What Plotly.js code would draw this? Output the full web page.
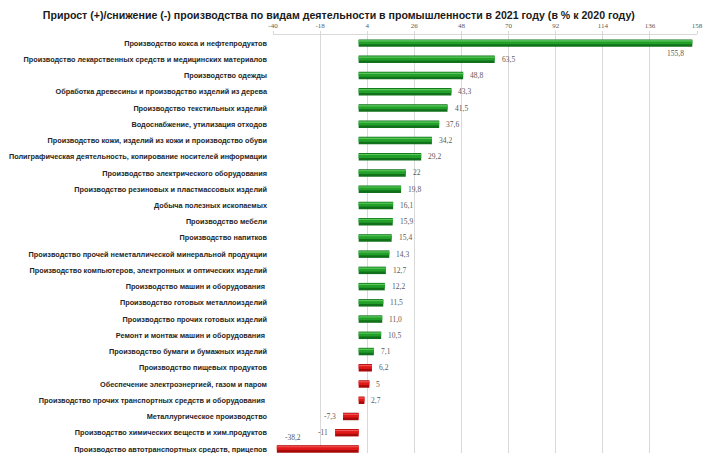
<!DOCTYPE html>
<html>
<head>
<meta charset="utf-8">
<script src="https://cdn.plot.ly/plotly-3.0.1.min.js"></script>
<style>html,body{margin:0;padding:0;overflow:hidden;background:#fff}</style>
</head>
<body>
<div id="chart" style="width:703px;height:453px"></div>
<script>
const categories = [
  "Производство кокса и нефтепродуктов",
  "Производство лекарственных средств и медицинских материалов",
  "Производство одежды",
  "Обработка древесины и производство изделий из дерева",
  "Производство текстильных изделий",
  "Водоснабжение, утилизация отходов",
  "Производство кожи, изделий из кожи и производство обуви",
  "Полиграфическая деятельность, копирование носителей информации",
  "Производство электрического оборудования",
  "Производство резиновых и пластмассовых изделий",
  "Добыча полезных ископаемых",
  "Производство мебели",
  "Производство напитков",
  "Производство прочей неметаллической минеральной продукции",
  "Производство компьютеров, электронных и оптических изделий",
  "Производство машин и оборудования ",
  "Производство готовых металлоизделий",
  "Производство прочих готовых изделий",
  "Ремонт и монтаж машин и оборудования ",
  "Производство бумаги и бумажных изделий",
  "Производство пищевых продуктов",
  "Обеспечение электроэнергией, газом и паром",
  "Производство прочих транспортных средств и оборудования ",
  "Металлургическое производство",
  "Производство химических веществ и хим.продуктов",
  "Производство автотранспортных средств, прицепов"
];
const values = [155.8, 63.5, 48.8, 43.3, 41.5, 37.6, 34.2, 29.2, 22, 19.8, 16.1, 15.9, 15.4, 14.3, 12.7, 12.2, 11.5, 11.0, 10.5, 7.1, 6.2, 5, 2.7, -7.3, -11, -38.2];
const valueLabels = ["155,8", "63,5", "48,8", "43,3", "41,5", "37,6", "34,2", "29,2", "22", "19,8", "16,1", "15,9", "15,4", "14,3", "12,7", "12,2", "11,5", "11,0", "10,5", "7,1", "6,2", "5", "2,7", "-7,3", "-11", "-38,2"];
const xTicks = [-40, -18, 4, 26, 48, 70, 92, 114, 136, 158];
const redFrom = 20;

const isRed = values.map((v, i) => i >= redFrom);
const baseColors = isRed.map(r => r ? '#a80a0a' : '#11711a');
const midColors = isRed.map(r => r ? '#e01818' : '#22a02a');
const topColors = isRed.map(r => r ? '#f05a5a' : '#5cc85c');

const traces = [
  {type: 'bar', orientation: 'h', x: values, y: categories, width: 0.46, offset: -0.23,
   marker: {color: baseColors, line: {width: 0}}, hoverinfo: 'skip'},
  {type: 'bar', orientation: 'h', x: values, y: categories, width: 0.26, offset: -0.19,
   marker: {color: midColors, line: {width: 0}}, hoverinfo: 'skip'},
  {type: 'bar', orientation: 'h', x: values, y: categories, width: 0.07, offset: -0.17,
   marker: {color: topColors, line: {width: 0}}, hoverinfo: 'skip'}
];

const annotations = values.map((v, i) => {
  const a = {x: v, y: categories[i], xref: 'x', yref: 'y', text: valueLabels[i], showarrow: false,
    font: {family: 'Liberation Serif', size: 7.5, color: '#595959'}};
  if (i === 0) { a.xanchor = 'right'; a.xshift = -6; a.yshift = -10; }
  else if (i === values.length - 1) { a.xanchor = 'left'; a.xshift = 6; a.yshift = 11; }
  else if (v >= 0) { a.xanchor = 'left'; a.xshift = 5; }
  else { a.xanchor = 'right'; a.xshift = -5; }
  return a;
});

const layout = {
  width: 703, height: 453,
  margin: {l: 273, r: 6, t: 35, b: 0, pad: 0},
  paper_bgcolor: '#ffffff', plot_bgcolor: '#ffffff',
  barmode: 'overlay', showlegend: false,
  title: {text: 'Прирост (+)/снижение (-) производства по видам деятельности в промышленности в 2021 году (в % к 2020 году)',
    font: {family: 'Liberation Sans', size: 10.6, color: '#1a1a1a', weight: 'bold'},
    xref: 'container', yref: 'container', x: 0.482, xanchor: 'center', y: 0.967, yanchor: 'middle'},
  xaxis: {side: 'top', range: [-40, 158], tickvals: xTicks, ticktext: xTicks.map(String),
    showgrid: true, gridcolor: '#d9d9d9', gridwidth: 1, zeroline: false,
    showline: true, linecolor: '#d9d9d9', ticks: 'outside', ticklen: 3, tickcolor: '#d9d9d9',
    tickfont: {family: 'Liberation Serif', size: 7, color: '#595959'}, fixedrange: true},
  yaxis: {type: 'category', categoryorder: 'array', categoryarray: categories,
    range: [25.25, -0.5], showgrid: false, zeroline: false, showline: false, ticks: '',
    ticklabelstandoff: 5,
    tickfont: {family: 'Liberation Sans', size: 7.3, color: '#262626', weight: 'bold'}, fixedrange: true},
  annotations: annotations
};

Plotly.newPlot('chart', traces, layout, {displayModeBar: false, staticPlot: true});
</script>
</body>
</html>
